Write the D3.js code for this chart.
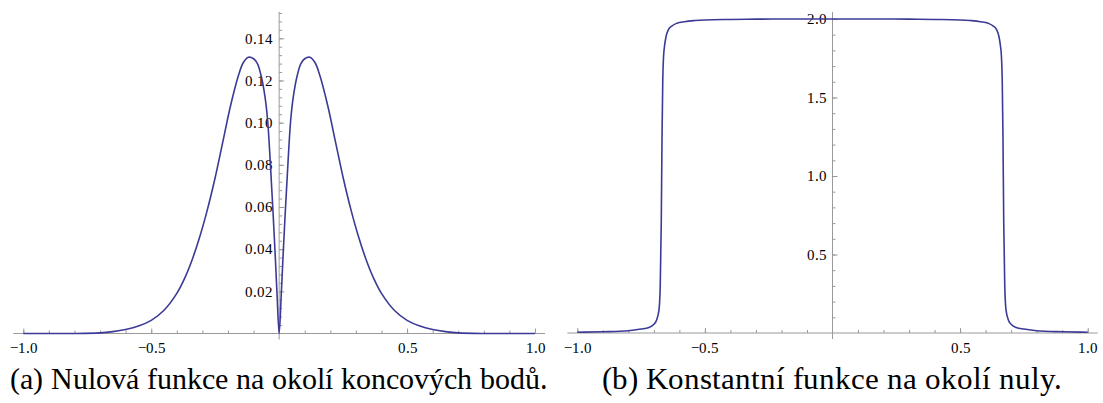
<!DOCTYPE html>
<html>
<head>
<meta charset="utf-8">
<script src="https://cdn.jsdelivr.net/npm/d3@7"></script>
<style>
  @font-face { font-family: "PlotSerif"; src: local("Liberation Serif"), local("LiberationSerif-Regular"), local("Liberation Serif Regular"); }
</style>
</head>
<body style="margin:0;background:#fff">
<svg id="chart" width="1103" height="403"></svg>
<script>
// Panel (a): function vanishing near the end points
const leftX = [-1.0, -0.9, -0.8, -0.7, -0.65, -0.6, -0.55, -0.5, -0.45, -0.4, -0.37, -0.34, -0.31, -0.28, -0.25, -0.22, -0.19, -0.16, -0.14, -0.12, -0.1, -0.085, -0.07, -0.055, -0.045, -0.035, -0.025, -0.015, -0.008, 0,
               0.008, 0.015, 0.025, 0.035, 0.045, 0.055, 0.07, 0.085, 0.1, 0.12, 0.14, 0.16, 0.19, 0.22, 0.25, 0.28, 0.31, 0.34, 0.37, 0.4, 0.45, 0.5, 0.55, 0.6, 0.65, 0.7, 0.8, 0.9, 1.0];
const leftY = [0, 0, 0, 0.0003, 0.0009, 0.0019, 0.0035, 0.0062, 0.011, 0.019, 0.026, 0.035, 0.046, 0.059, 0.074, 0.091, 0.108, 0.122, 0.1285, 0.131, 0.1303, 0.128, 0.122, 0.112, 0.101, 0.082, 0.06, 0.036, 0.018, 0,
               0.018, 0.036, 0.06, 0.082, 0.101, 0.112, 0.122, 0.128, 0.1303, 0.131, 0.1285, 0.122, 0.108, 0.091, 0.074, 0.059, 0.046, 0.035, 0.026, 0.019, 0.011, 0.0062, 0.0035, 0.0019, 0.0009, 0.0003, 0, 0, 0];

// Panel (b): function constant near zero
const rightX = [-1.0, -0.9, -0.8, -0.75, -0.72, -0.7, -0.69, -0.68, -0.675, -0.671, -0.668, -0.665, -0.662, -0.658, -0.652, -0.643, -0.63, -0.61, -0.58, -0.54, -0.5, -0.4, -0.3, -0.2, 0,
                0.2, 0.3, 0.4, 0.5, 0.54, 0.58, 0.61, 0.63, 0.643, 0.652, 0.658, 0.662, 0.665, 0.668, 0.671, 0.675, 0.68, 0.69, 0.7, 0.72, 0.75, 0.8, 0.9, 1.0];
const rightY = [0.005, 0.008, 0.014, 0.025, 0.035, 0.055, 0.08, 0.146, 0.3, 0.7, 1.25, 1.62, 1.76, 1.83, 1.89, 1.932, 1.955, 1.973, 1.983, 1.99, 1.994, 1.997, 1.999, 2.0, 2.0,
                2.0, 1.999, 1.997, 1.994, 1.99, 1.983, 1.973, 1.955, 1.932, 1.89, 1.83, 1.76, 1.62, 1.25, 0.7, 0.3, 0.146, 0.08, 0.055, 0.035, 0.025, 0.014, 0.008, 0.005];

// Tick values
const xMajorTicks = [-1.0, -0.5, 0.5, 1.0];
const leftYMajorTicks = [0.02, 0.04, 0.06, 0.08, 0.10, 0.12, 0.14];
const rightYMajorTicks = [0.5, 1.0, 1.5, 2.0];

const captionA = "(a) Nulová funkce na okolí koncových bodů.";
const captionB = "(b) Konstantní funkce na okolí nuly.";

const svg = d3.select("#chart");
const textFont = "PlotSerif, Liberation Serif, serif";
const axisColor = "#9a9a9a";
const curveColor = "#3b3b97";

function styleAxis(ag) {
  ag.select(".domain").remove();
  ag.attr("font-family", textFont).attr("font-size", 15);
  ag.selectAll(".tick line").attr("stroke", axisColor);
  ag.selectAll(".tick text").attr("fill", "#000");
}

function panel(opts) {
  const { xs, ys, xRange, yDomain, yRange, yMajor, yMinorStep, yTop, yFormat, curve } = opts;
  const x = d3.scaleLinear().domain([-1, 1]).range(xRange);
  const y = d3.scaleLinear().domain(yDomain).range(yRange);
  const g = svg.append("g");
  const y0 = y(0), x0 = x(0);

  // axis lines
  g.append("line").attr("x1", xRange[0] - 10).attr("x2", xRange[1] + 10)
    .attr("y1", y0).attr("y2", y0).attr("stroke", axisColor).attr("stroke-width", 1);
  g.append("line").attr("x1", x0).attr("x2", x0)
    .attr("y1", y(yTop)).attr("y2", y0 + 6).attr("stroke", axisColor).attr("stroke-width", 1);

  // x ticks: minor every 0.1, major with labels
  const xMinor = d3.range(-10, 11).map(d => d / 10).filter(d => d !== 0);
  const xMinorAxis = d3.axisBottom(x).tickValues(xMinor).tickSize(-3).tickFormat("");
  const xMajorAxis = d3.axisBottom(x).tickValues(xMajorTicks).tickSize(-5).tickPadding(9).tickFormat(d3.format(".1f"));
  [xMinorAxis, xMajorAxis].forEach(ax => {
    g.append("g").attr("transform", `translate(0,${y0})`).call(ax).call(styleAxis);
  });

  // y ticks: drawn to the right, labels to the left
  const nMinor = Math.floor(yTop / yMinorStep + 1e-9);
  const yMinor = d3.range(1, nMinor + 1).map(i => +(i * yMinorStep).toFixed(6));
  const yMinorAxis = d3.axisLeft(y).tickValues(yMinor).tickSize(-3).tickFormat("");
  const yMajorAxis = d3.axisLeft(y).tickValues(yMajor).tickSize(-5).tickPadding(6).tickFormat(d3.format(yFormat));
  [yMinorAxis, yMajorAxis].forEach(ax => {
    g.append("g").attr("transform", `translate(${x0},0)`).call(ax).call(styleAxis);
  });

  // curve
  const pts = xs.map((d, i) => [d, ys[i]]);
  const line = d3.line().x(d => x(d[0])).y(d => y(d[1])).curve(curve);
  g.append("path").datum(pts).attr("d", line)
    .attr("fill", "none").attr("stroke", curveColor).attr("stroke-width", 1.6)
    .attr("stroke-linejoin", "round");
}

panel({ xs: leftX, ys: leftY, xRange: [23.3, 535], yDomain: [0, 0.14], yRange: [333.5, 38.3],
        yMajor: leftYMajorTicks, yMinorStep: 0.004, yTop: 0.1525, yFormat: ".2f",
        curve: d3.curveCatmullRom.alpha(0.5) });
panel({ xs: rightX, ys: rightY, xRange: [577.3, 1087.7], yDomain: [0, 2], yRange: [333, 19],
        yMajor: rightYMajorTicks, yMinorStep: 0.1, yTop: 2.045, yFormat: ".1f",
        curve: d3.curveMonotoneX });

// captions below each panel
function caption(text, cx, size) {
  svg.append("text")
    .attr("x", cx).attr("y", 389).attr("text-anchor", "middle").attr("fill", "#000")
    .attr("font-family", textFont).attr("font-size", size)
    .text(text);
}
caption(captionA, 278.5, 30);
caption(captionB, 831.5, 30.5);
</script>
</body>
</html>
